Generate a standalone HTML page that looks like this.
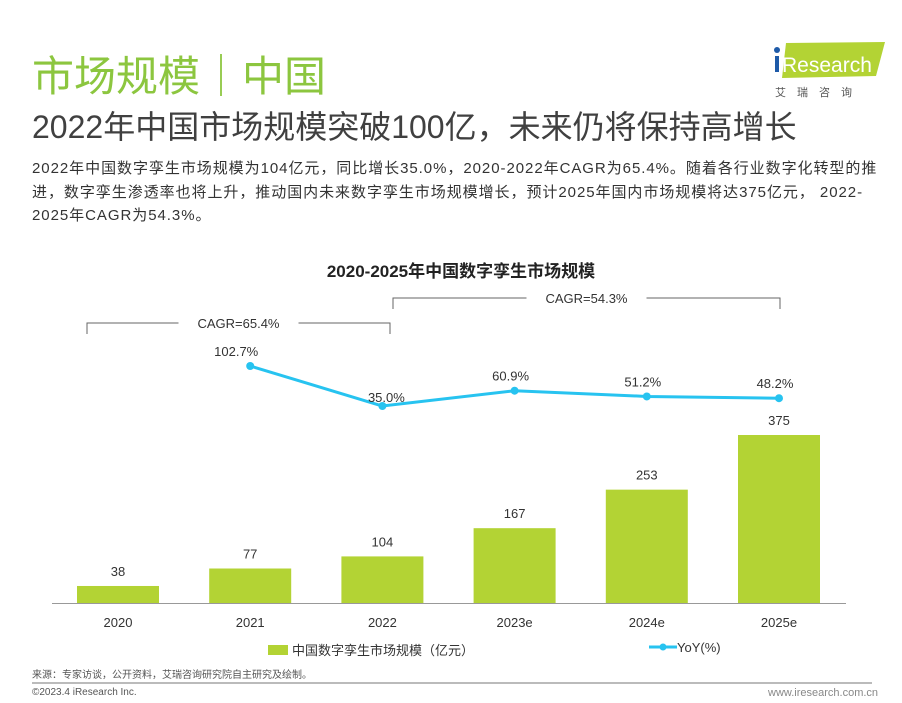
<!DOCTYPE html>
<html><head><meta charset="utf-8"><style>
body{margin:0;width:902px;height:703px;background:#fff;font-family:"Liberation Sans","Noto Sans CJK SC",sans-serif;position:relative;overflow:hidden}
.a{position:absolute;white-space:nowrap}
</style></head><body>
<div class="a" style="left:32px;top:43px;font-size:42px;color:#8cc63f">市场规模｜中国</div>
<div class="a" style="left:32px;top:102px;font-size:32px;color:#404040">2022年中国市场规模突破100亿，未来仍将保持高增长</div>
<div class="a" style="left:32px;top:157px;font-size:15px;line-height:23.5px;letter-spacing:0.95px;color:#333">2022年中国数字孪生市场规模为104亿元，同比增长35.0%，2020-2022年CAGR为65.4%。随着各行业数字化转型的推<br>进，数字孪生渗透率也将上升，推动国内未来数字孪生市场规模增长，预计2025年国内市场规模将达375亿元， 2022-<br>2025年CAGR为54.3%。</div>
<div class="a" style="left:772px;top:40px;width:116px;height:60px">
<svg width="116" height="60"><polygon points="14,3 113,2 104,36 10,38" fill="#b3d334"/><circle cx="5" cy="10" r="3" fill="#1e5aa8"/><rect x="3" y="16" width="4" height="16" fill="#1e5aa8"/>
<text x="10" y="32" font-size="21" fill="#fff" font-family="Liberation Sans">Research</text>
<text x="3" y="56" font-size="11" fill="#555" letter-spacing="11" font-family="Noto Sans CJK SC">艾瑞咨询</text></svg></div>
<div class="a" style="left:10px;width:902px;text-align:center;top:257px;font-size:17px;font-weight:bold;color:#222">2020-2025年中国数字孪生市场规模</div>
<svg class="a" style="left:0;top:0" width="902" height="703" id="chart"></svg>
<div class="a" style="left:268px;top:640px;font-size:13px;color:#333"><span style="display:inline-block;width:20px;height:10px;background:#b3d334;margin-right:4px"></span>中国数字孪生市场规模（亿元）</div>
<div class="a" style="left:649px;top:640px;font-size:13px;color:#333"><svg width="28" height="10"><line x1="0" y1="5" x2="28" y2="5" stroke="#27c3f0" stroke-width="3"/><circle cx="14" cy="5" r="3.5" fill="#27c3f0"/></svg>YoY(%)</div>
<div class="a" style="left:32px;top:666px;font-size:10px;color:#555">来源：专家访谈，公开资料，艾瑞咨询研究院自主研究及绘制。</div>
<div class="a" style="left:32px;top:682px;width:840px;height:2px;background:#bbb"></div>
<div class="a" style="left:32px;top:687px;font-size:10px;color:#555">©2023.4 iResearch Inc.</div>
<div class="a" style="left:768px;top:687px;font-size:11px;color:#888">www.iresearch.com.cn</div>
<script>
const categories=["2020","2021","2022","2023e","2024e","2025e"];
const marketSize=[38,77,104,167,253,375];
const yoy=[null,102.7,35.0,60.9,51.2,48.2];
const yoyLabels=["","102.7%","35.0%","60.9%","51.2%","48.2%"];
const svg=document.getElementById('chart');const NS='http://www.w3.org/2000/svg';
const xc=i=>118+i*132.2, yb=v=>603-v*0.448, yl=v=>426.7-v*0.591;
function mk(t,a){const e=document.createElementNS(NS,t);for(const k in a)e.setAttribute(k,a[k]);svg.appendChild(e);return e;}
let ax=mk('line',{x1:52,y1:603.5,x2:846,y2:603.5,stroke:'#999','stroke-width':1});


categories.forEach((c,i)=>{
 let b=mk('rect',{x:xc(i)-41,y:yb(marketSize[i]),width:82,height:603-yb(marketSize[i]),fill:'#b3d334'});
 
 
 let t=mk('text',{x:xc(i),y:yb(marketSize[i])-10,'text-anchor':'middle','font-size':13,fill:'#333'});t.textContent=marketSize[i];
 
 
 let l=mk('text',{x:xc(i),y:627,'text-anchor':'middle','font-size':13,fill:'#333'});l.textContent=c;
 
 
});
let pts=[];yoy.forEach((v,i)=>{if(v!==null)pts.push([xc(i),yl(v)]);});
let pl=mk('polyline',{points:pts.map(p=>p.join(',')).join(' '),fill:'none',stroke:'#27c3f0','stroke-width':3});


yoy.forEach((v,i)=>{if(v===null)return;
 let c=mk('circle',{cx:xc(i),cy:yl(v),r:4,fill:'#27c3f0'});
 
 
 let dx=i===1?-14:(i===2?4:-4);
 let t=mk('text',{x:xc(i)+dx,y:i===2?yl(v)-4:yl(v)-10,'text-anchor':'middle','font-size':13,fill:'#333'});t.textContent=yoyLabels[i];
 
 
});
function bracket(x1,x2,y,label,name){
 let p=mk('path',{d:`M${x1},${y+11}V${y}H${(x1+x2)/2-60}M${(x1+x2)/2+60},${y}H${x2}V${y+11}`,fill:'none',stroke:'#666','stroke-width':1});
 
 
 let t=mk('text',{x:(x1+x2)/2,y:y+5,'text-anchor':'middle','font-size':13,fill:'#333'});t.textContent=label;
 
 
}
bracket(87,390,323,'CAGR=65.4%','cagr-2020-2022');
bracket(393,780,298,'CAGR=54.3%','cagr-2022-2025');
</script>
</body></html>
